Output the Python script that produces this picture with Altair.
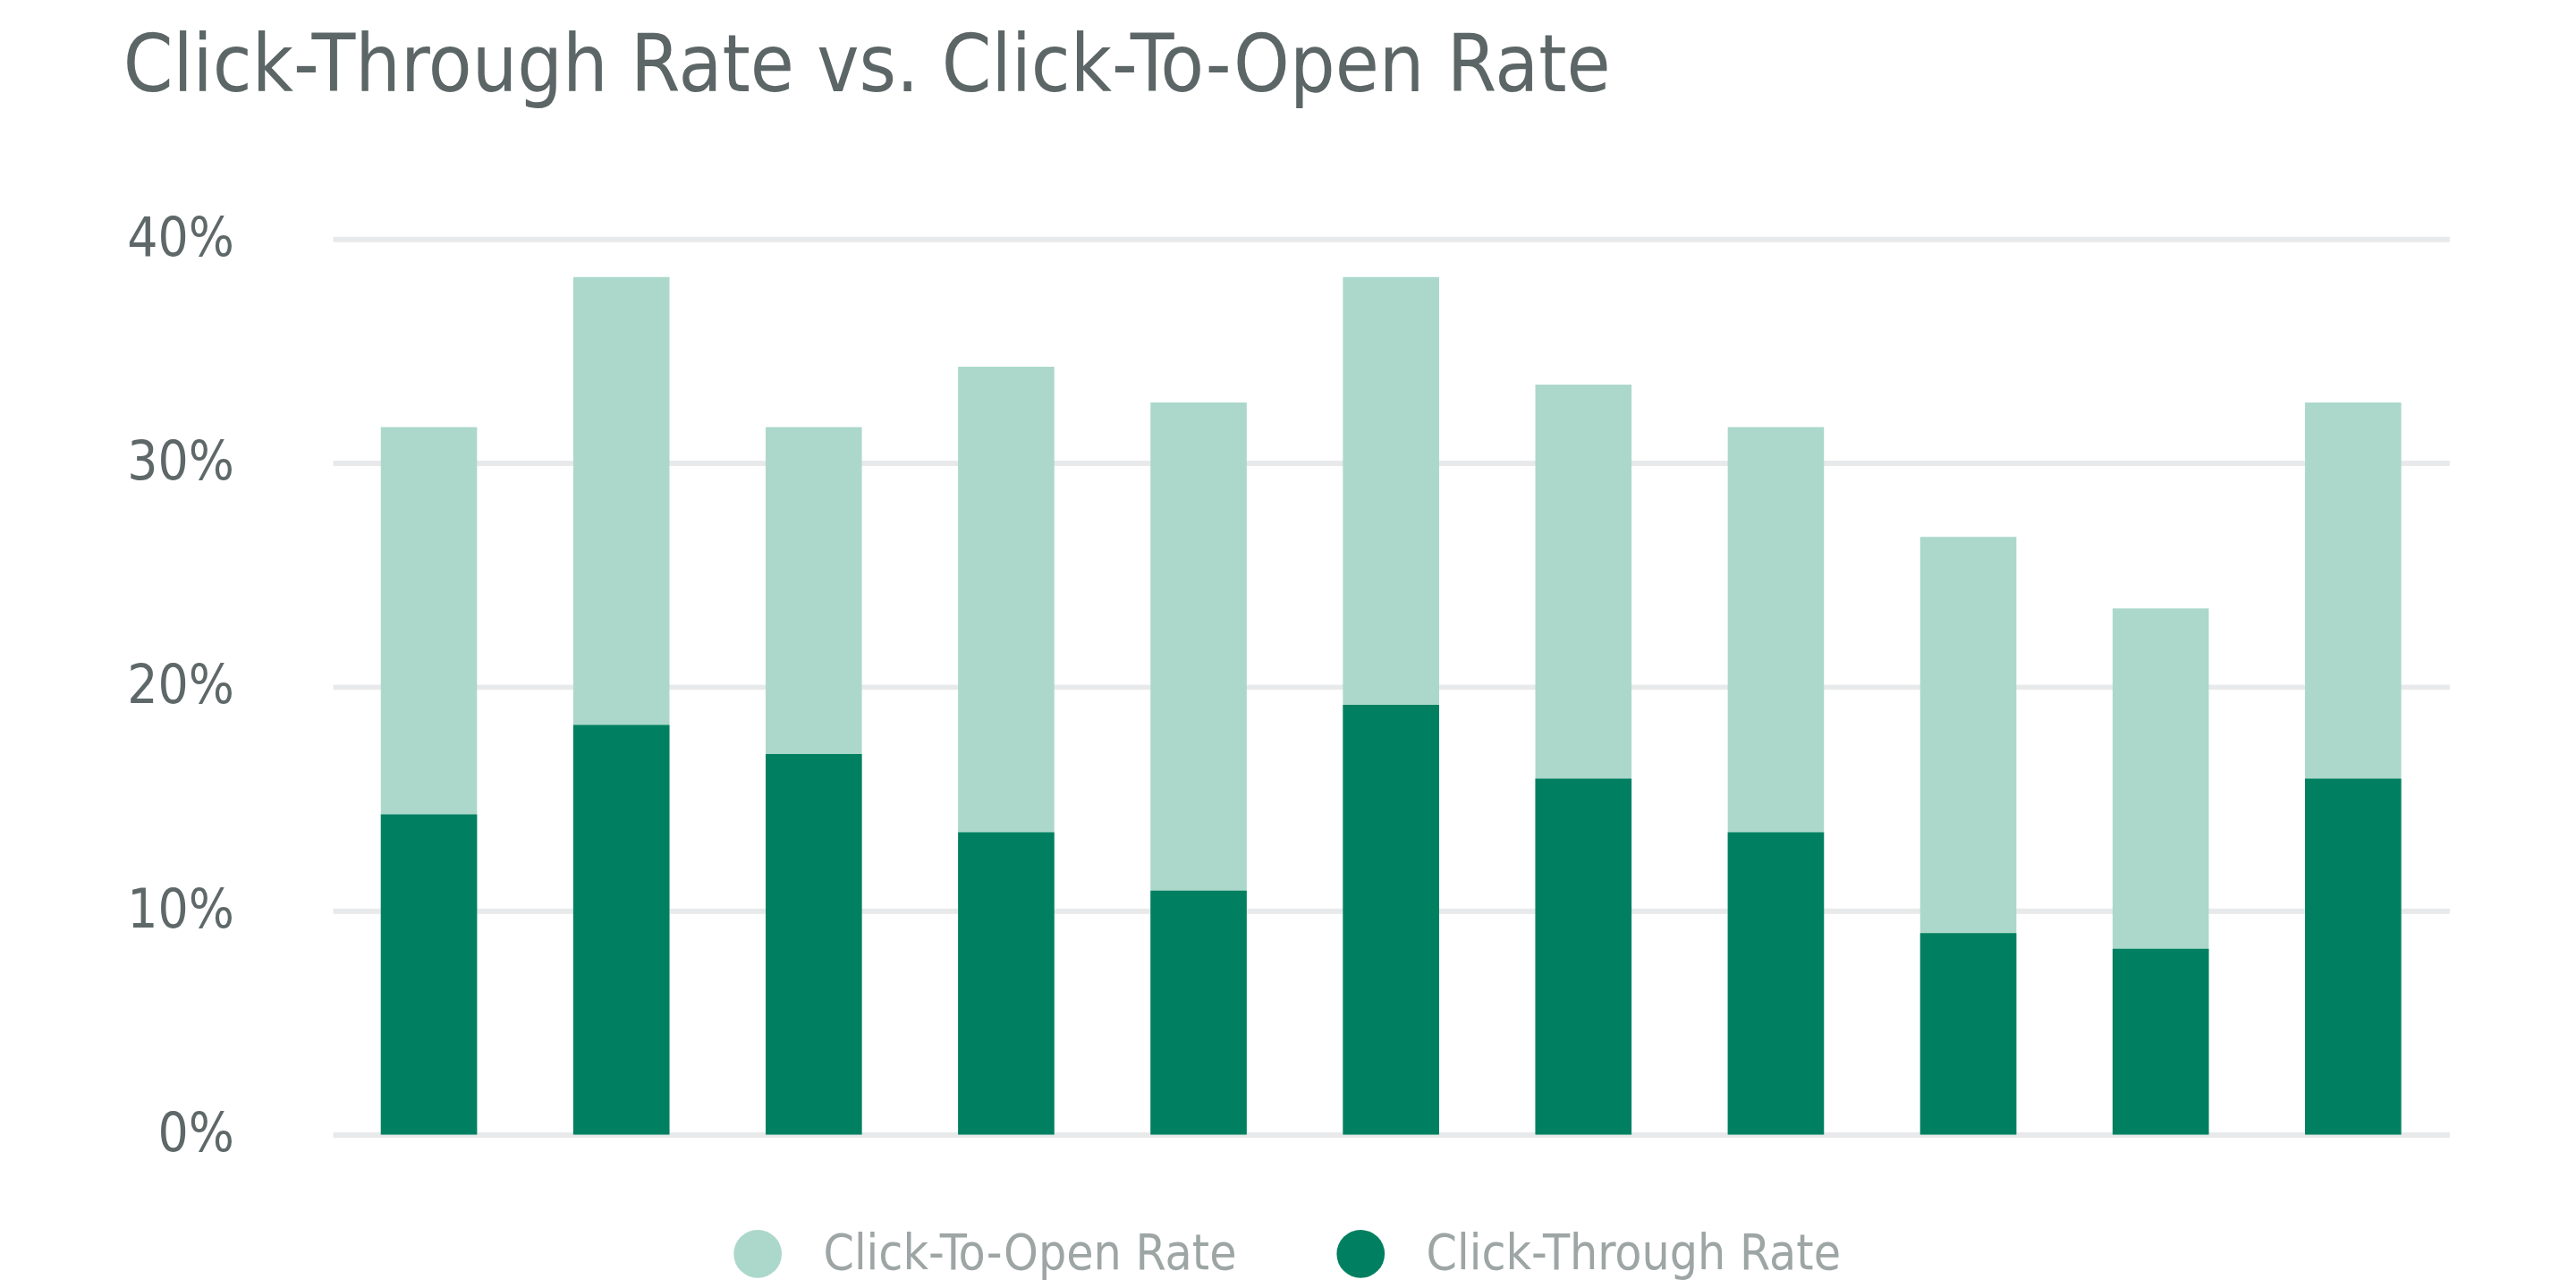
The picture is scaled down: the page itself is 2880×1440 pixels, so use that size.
import altair as alt
import pandas as pd

campaigns = ["C1", "C2", "C3", "C4", "C5", "C6", "C7", "C8", "C9", "C10", "C11"]
click_to_open = [31.6, 38.3, 31.6, 34.3, 32.7, 38.3, 33.5, 31.6, 26.7, 23.5, 32.7]
click_through = [14.3, 18.3, 17.0, 13.5, 10.9, 19.2, 15.9, 13.5, 9.0, 8.3, 15.9]
y_ticks = [0, 10, 20, 30, 40]
series = ["Click-To-Open Rate", "Click-Through Rate"]
colors = ["#abd8cb", "#008060"]

df = pd.DataFrame({
    "campaign": campaigns,
    "Click-To-Open Rate": click_to_open,
    "Click-Through Rate": click_through,
})

FONT = "Liberation Sans Narrow, DejaVu Sans Condensed, sans-serif"

chart = (
    alt.Chart(df)
    .transform_fold(series, as_=["metric", "value"])
    .mark_bar()
    .encode(
        x=alt.X("campaign:N", sort=campaigns, axis=None,
                scale=alt.Scale(paddingInner=0.5, paddingOuter=0.25)),
        y=alt.Y("value:Q", stack=None,
                scale=alt.Scale(domain=[0, 40], nice=False),
                axis=alt.Axis(values=y_ticks, labelExpr="datum.value + '%'",
                              domain=False, ticks=False, grid=True,
                              gridColor="#e8e9ea", gridWidth=6,
                              labelFont=FONT, labelFontSize=60,
                              labelColor="#5f6868", labelPadding=111,
                              title=None)),
        color=alt.Color("metric:N",
                        scale=alt.Scale(domain=series, range=colors),
                        legend=alt.Legend(orient="none", legendX=449, legendY=1110,
                                          direction="horizontal", title=None,
                                          symbolType="circle", symbolSize=2900,
                                          symbolStrokeWidth=0,
                                          labelFont=FONT, labelFontSize=55,
                                          labelColor="#9ea5a5", labelOffset=46,
                                          labelLimit=2000,
                                          columnPadding=111, padding=0)),
    )
    .properties(
        width=2373,
        height=1004,
        autosize=alt.AutoSizeParams(type="none"),
        padding={"left": 365, "top": 258, "right": 134, "bottom": 170},
        title=alt.TitleParams(
            "Click-Through Rate vs. Click-To-Open Rate",
            anchor="start", frame="group", dx=-235,
            baseline="alphabetic", offset=47,
            font=FONT, fontSize=89, fontWeight="normal", color="#5d6666",
        ),
    )
    .configure_view(stroke=None)
)

chart.save("out.html", embed_options={"renderer": "svg", "actions": False})
